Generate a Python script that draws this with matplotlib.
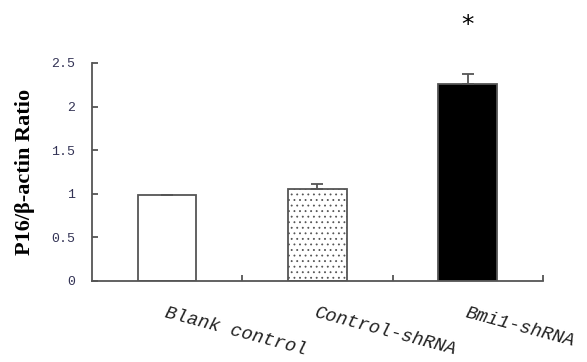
import matplotlib.pyplot as plt
import numpy as np

GROUPS = ['Blank control', 'Control-shRNA', 'Bmi1-shRNA']
RATIO = [0.99, 1.055, 2.26]
ERR = [0.0, 0.055, 0.11]
YTICKS = [0, 0.5, 1, 1.5, 2, 2.5]

plt.rcParams['hatch.color'] = '#666666'
plt.rcParams['hatch.linewidth'] = 0.6

fig = plt.figure(figsize=(5.87, 3.62), dpi=100)
ax = fig.add_axes([0.1567, 0.2238, 0.925 - 0.1567, 0.826 - 0.2238])

x = np.arange(len(GROUPS)) + 0.5
edge = '#555555'
bars = ax.bar(x, RATIO, width=0.39, color=['white', 'white', 'black'],
              edgecolor=edge, linewidth=1.3, zorder=2)
bars[1].set_hatch('...')
ax.errorbar(x, RATIO, yerr=[np.zeros(3), ERR], fmt='none', ecolor=edge,
            elinewidth=1.3, capsize=4, capthick=1.3, zorder=3)
ax.text(x[2], 2.93, '*', ha='center', va='center', fontsize=18,
        color='black', family='DejaVu Sans')

ax.set_xlim(0, 3)
ax.set_ylim(0, 2.5)
ax.set_yticks(YTICKS)
ax.set_yticklabels(['0', '0.5', '1', '1.5', '2', '2.5'],
                   family='Liberation Mono', fontsize=9.5, color='#333355')
ax.set_xticks([1, 2, 3])
ax.set_xticklabels([])
ax.tick_params(axis='both', direction='in', length=4, width=1.3, color=edge)
ax.tick_params(axis='y', pad=12)

for s in ['top', 'right']:
    ax.spines[s].set_visible(False)
for s in ['left', 'bottom']:
    ax.spines[s].set_color(edge)
    ax.spines[s].set_linewidth(1.3)

for xi, g in zip(x, GROUPS):
    ax.text(xi, -0.27, g, rotation=-15, rotation_mode='anchor', ha='left',
            va='top', family='Liberation Mono', style='italic', fontsize=13.5,
            color='#222222')

ax.set_ylabel('P16/β-actin Ratio', family='Liberation Serif', weight='bold',
              fontsize=16, labelpad=12)

fig.savefig('out.png', dpi=100)
